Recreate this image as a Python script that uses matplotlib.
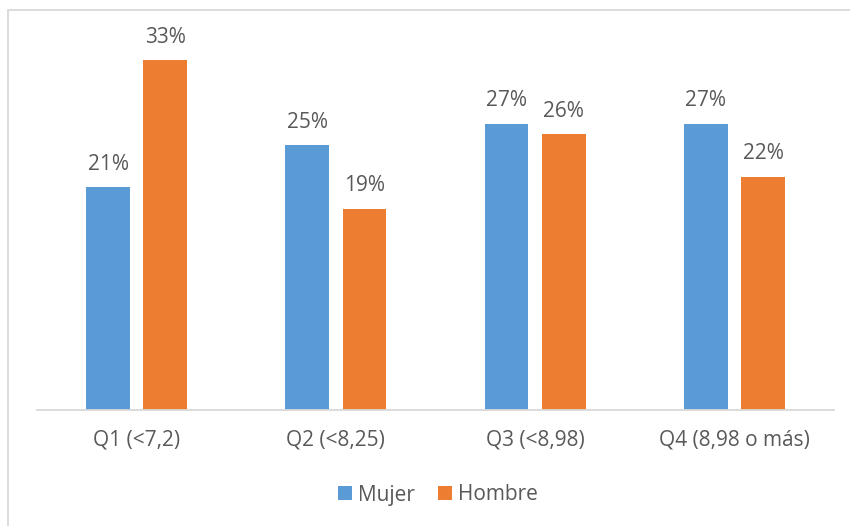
import matplotlib.pyplot as plt
from matplotlib.patches import Rectangle
import numpy as np

categories = ['Q1 (<7,2)', 'Q2 (<8,25)', 'Q3 (<8,98)', 'Q4 (8,98 o más)']
mujer = [0.21, 0.25, 0.27, 0.27]
hombre = [0.33, 0.19, 0.26, 0.22]

plt.rcParams['font.family'] = ['Open Sans', 'DejaVu Sans']
txt = '#595959'
c_muj = '#5B9BD5'
c_hom = '#ED7D31'
fs = 15

W, H = 850, 526
fig = plt.figure(figsize=(W / 100, H / 100), dpi=100)

# outer chart frame (light grey, cut off on right and bottom)
fig.patches.append(Rectangle((7.5 / W, -0.1), 1.2, 1 - 9.5 / H + 0.1,
                             transform=fig.transFigure, fill=False,
                             edgecolor='#D9D9D9', linewidth=1.3))

ax = fig.add_axes([37 / W, (H - 410) / H, 797 / W, 371 / H])
x = np.arange(len(categories))
off = 0.1435
bw = 0.22
b1 = ax.bar(x - off, mujer, bw, color=c_muj, label='Mujer')
b2 = ax.bar(x + off, hombre, bw, color=c_hom, label='Hombre')

for bars, vals in ((b1, mujer), (b2, hombre)):
    for b, v in zip(bars, vals):
        ax.annotate(f'{v:.0%}', (b.get_x() + b.get_width() / 2, v),
                    xytext=(0, 9), textcoords='offset points',
                    ha='center', va='bottom', fontsize=fs, color=txt)

ax.set_xlim(-0.5, 3.5)
ax.set_ylim(0, 0.35)
ax.set_yticks([])
ax.set_xticks(x)
ax.set_xticklabels(categories, fontsize=fs, color=txt)
ax.tick_params(axis='x', length=0, pad=14)
for s in ('top', 'right', 'left'):
    ax.spines[s].set_visible(False)
ax.spines['bottom'].set_color('#D9D9D9')
ax.spines['bottom'].set_linewidth(1.3)

leg = fig.legend(handles=[b1, b2], loc='center', bbox_to_anchor=(438 / W, (H - 495) / H),
                 ncol=2, frameon=False, fontsize=fs, handlelength=0.65,
                 handleheight=0.65, handletextpad=0.3, columnspacing=1.1)
for t in leg.get_texts():
    t.set_color(txt)

fig.savefig('out.png', dpi=100)
